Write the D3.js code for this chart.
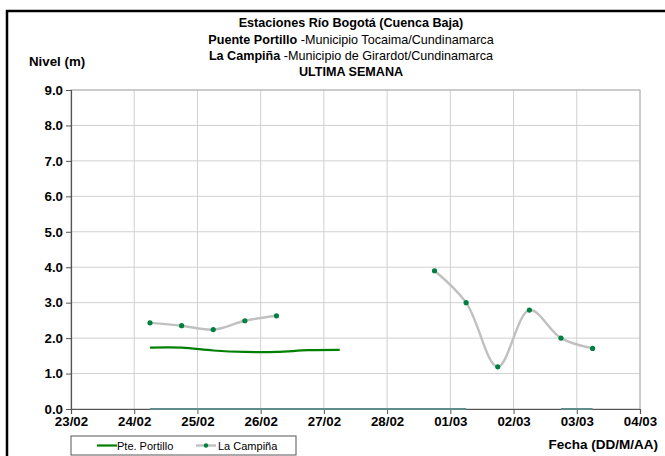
<!DOCTYPE html>
<html>
<head>
<meta charset="utf-8">
<script src="https://cdn.jsdelivr.net/npm/d3@7"></script>
<style>
  body { margin: 0; background: #fff; }
  svg text { font-family: "Liberation Sans", Arial, sans-serif; }
</style>
</head>
<body>
<div class="container"></div>
<script>
// lecturas cada 12 horas (06:00 y 18:00)
const portilloTimes = ["24/02 06", "24/02 18", "25/02 06", "25/02 18", "26/02 06", "26/02 18", "27/02 06"];
const portilloValues = [1.73, 1.73, 1.65, 1.61, 1.61, 1.66, 1.67];

const campinaTimes = ["24/02 06", "24/02 18", "25/02 06", "25/02 18", "26/02 06", null,
                      "28/02 18", "01/03 06", "01/03 18", "02/03 06", "02/03 18", "03/03 06"];
const campinaValues = [2.43, 2.35, 2.24, 2.49, 2.63, null, 3.90, 3.00, 1.19, 2.79, 2.00, 1.71];

// serie sin datos (nivel 0)
const zeroTimes = ["24/02 06", "24/02 18", "25/02 06", "25/02 18", "26/02 06", "26/02 18", "27/02 06",
                   "27/02 18", "28/02 06", "28/02 18", "01/03 06", null, "02/03 18", "03/03 06"];
const zeroValues = [0, 0, 0, 0, 0, 0, 0, 0, 0, 0, 0, null, 0, 0];

const xTicks = ["23/02", "24/02", "25/02", "26/02", "27/02", "28/02", "01/03", "02/03", "03/03", "04/03"];
const yTicks = [0, 1, 2, 3, 4, 5, 6, 7, 8, 9];

const w = 665;
const h = 456;
const parse = d3.timeParse("%d/%m %H %Y");
const parseDay = d3.timeParse("%d/%m %Y");
const toDate = (s) => s === null ? null : parse(s + " 2023");

const x = d3.scaleTime()
  .domain([parseDay("23/02 2023"), parseDay("04/03 2023")])
  .range([71, 640]);
const y = d3.scaleLinear().domain([0, 9]).range([409, 90]);

const svg = d3.select(".container").append("svg")
  .attr("width", w).attr("height", h);

// marco exterior
svg.append("rect")
  .attr("x", 7).attr("y", 11).attr("width", 720).attr("height", 520)
  .attr("fill", "none").attr("stroke", "#000").attr("stroke-width", 2.5);

// titulo
const tSize = 12.6;
svg.append("text").attr("text-anchor", "middle").attr("x", 351).attr("y", 27)
  .attr("font-size", tSize).attr("font-weight", "bold")
  .text("Estaciones Río Bogotá (Cuenca Baja)");
let l2 = svg.append("text").attr("text-anchor", "middle").attr("x", 351).attr("y", 44)
  .attr("font-size", tSize);
l2.append("tspan").attr("font-weight", "bold").text("Puente Portillo ");
l2.append("tspan").text("-Municipio Tocaima/Cundinamarca");
let l3 = svg.append("text").attr("text-anchor", "middle").attr("x", 351).attr("y", 60)
  .attr("font-size", tSize);
l3.append("tspan").attr("font-weight", "bold").text("La Campiña ");
l3.append("tspan").text("-Municipio de Girardot/Cundinamarca");
svg.append("text").attr("text-anchor", "middle").attr("x", 351).attr("y", 76)
  .attr("font-size", tSize).attr("font-weight", "bold")
  .text("ULTIMA SEMANA");

svg.append("text").attr("x", 29).attr("y", 66)
  .attr("font-size", 13.3).attr("font-weight", "bold")
  .text("Nivel (m)");

// rejilla
svg.append("g").selectAll("line").data(yTicks.slice(1)).join("line")
  .attr("x1", 71).attr("x2", 640)
  .attr("y1", d => y(d)).attr("y2", d => y(d))
  .attr("stroke", "#d0d0d0").attr("stroke-width", 1);
svg.append("g").selectAll("line").data(xTicks.slice(1)).join("line")
  .attr("x1", d => x(parseDay(d + " 2023"))).attr("x2", d => x(parseDay(d + " 2023")))
  .attr("y1", 90).attr("y2", 409)
  .attr("stroke", "#d0d0d0").attr("stroke-width", 1);
svg.append("rect").attr("x", 71).attr("y", 90).attr("width", 569).attr("height", 319)
  .attr("fill", "none").attr("stroke", "#b0b0b0").attr("stroke-width", 1);

// ejes
const yAxis = d3.axisLeft(y).tickValues(yTicks).tickFormat(d3.format(".1f")).tickSize(5).tickPadding(3);
const gy = svg.append("g").attr("transform", "translate(71,0)").call(yAxis);
const xAxis = d3.axisBottom(x)
  .tickValues(xTicks.map(d => parseDay(d + " 2023")))
  .tickFormat(d3.timeFormat("%d/%m")).tickSize(5).tickPadding(3);
const gx = svg.append("g").attr("transform", "translate(0,409)").call(xAxis);
[gx, gy].forEach(g => {
  g.select(".domain").attr("stroke", "#555").attr("stroke-width", 1.2);
  g.selectAll(".tick line").attr("stroke", "#555");
  g.selectAll("text").attr("font-size", 13.3).attr("font-weight", "bold")
    .attr("fill", "#000").attr("font-family", "Liberation Sans, Arial, sans-serif");
});

svg.append("text").attr("x", 658).attr("y", 449).attr("text-anchor", "end")
  .attr("font-size", 13.5).attr("font-weight", "bold")
  .text("Fecha (DD/M/AA)");

// series
const zip = (ts, vs) => ts.map((t, i) => ({ t: toDate(t), v: vs[i] }));
const zeroData = zip(zeroTimes, zeroValues);
const portilloData = zip(portilloTimes, portilloValues);
const campinaData = zip(campinaTimes, campinaValues);

const lineStraight = d3.line().defined(d => d.v !== null).x(d => x(d.t)).y(d => y(d.v));
const lineSmooth = d3.line().defined(d => d.v !== null).x(d => x(d.t)).y(d => y(d.v))
  .curve(d3.curveCatmullRom.alpha(0.5));

svg.append("path").datum(zeroData).attr("d", lineStraight)
  .attr("fill", "none").attr("stroke", "#5f8d8d").attr("stroke-width", 2.2);

svg.append("path").datum(portilloData).attr("d", lineSmooth)
  .attr("fill", "none").attr("stroke", "#008000").attr("stroke-width", 2.2);

svg.append("path").datum(campinaData).attr("d", lineSmooth)
  .attr("fill", "none").attr("stroke", "#c0c0c0").attr("stroke-width", 2.4);
svg.append("g").selectAll("circle").data(campinaData.filter(d => d.v !== null)).join("circle")
  .attr("cx", d => x(d.t)).attr("cy", d => y(d.v)).attr("r", 2.6)
  .attr("fill", "#008040");

// leyenda
const legend = svg.append("g");
legend.append("rect").attr("x", 71).attr("y", 436).attr("width", 225).attr("height", 19)
  .attr("fill", "#fff").attr("stroke", "#555").attr("stroke-width", 1);
legend.append("line").attr("x1", 97).attr("x2", 117).attr("y1", 445.5).attr("y2", 445.5)
  .attr("stroke", "#008000").attr("stroke-width", 2.2);
legend.append("text").attr("x", 117).attr("y", 449.5).attr("font-size", 11).text("Pte. Portillo");
legend.append("line").attr("x1", 196).attr("x2", 216).attr("y1", 445.5).attr("y2", 445.5)
  .attr("stroke", "#c0c0c0").attr("stroke-width", 2.4);
legend.append("circle").attr("cx", 206).attr("cy", 445.5).attr("r", 2.2).attr("fill", "#008040");
legend.append("text").attr("x", 218).attr("y", 449.5).attr("font-size", 11).text("La Campiña");
</script>
</body>
</html>
